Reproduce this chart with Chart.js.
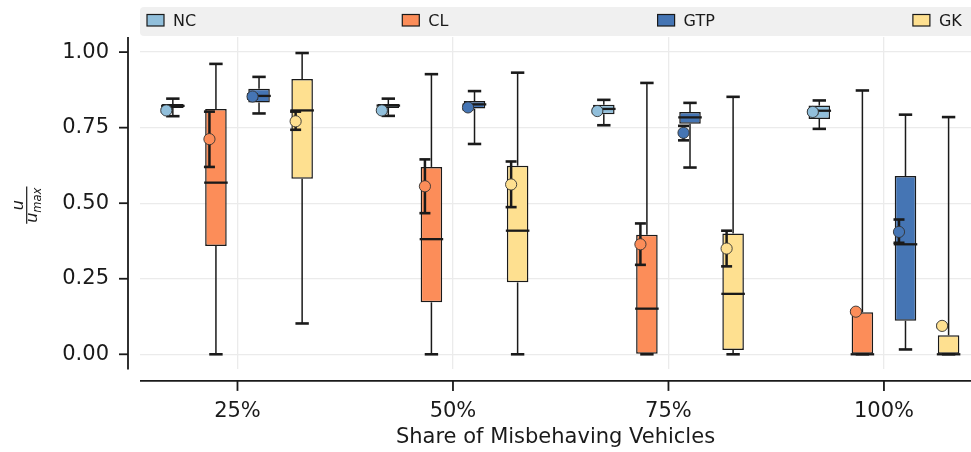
<!DOCTYPE html>
<html>
<head>
<meta charset="utf-8">
<script src="https://cdn.jsdelivr.net/npm/chart.js@4.4.0/dist/chart.umd.min.js"></script>
<style>
  html, body { margin: 0; padding: 0; background: #ffffff; overflow: hidden; }
  #wrap { width: 971px; height: 452px; }
</style>
</head>
<body>
<div id="wrap"><canvas id="chart" width="971" height="452"></canvas></div>
<script>
// Groups on the x axis and the four strategies compared in each group
const categories = ['25%', '50%', '75%', '100%'];
const seriesNames = ['NC', 'CL', 'GTP', 'GK'];
const seriesColors = ['#91bfdb', '#fc8d59', '#4575b4', '#fee090'];
const yTickValues = [0, 0.25, 0.5, 0.75, 1.0];

// Box statistics of u / u_max per group: whiskers, quartiles, median,
// mean and the confidence interval of the mean
const NC = {
  low:    [0.788, 0.789, 0.758, 0.746],
  q1:     [0.815, 0.815, 0.794, 0.779],
  median: [0.822, 0.823, 0.812, 0.806],
  q3:     [0.828, 0.828, 0.826, 0.823],
  high:   [0.846, 0.846, 0.842, 0.840],
  mean:   [0.807, 0.807, 0.805, 0.802],
  ciLow:  [0.803, 0.803, 0.801, 0.798],
  ciHigh: [0.811, 0.811, 0.809, 0.806]
};
const CL = {
  low:    [0.000, 0.000, 0.000, 0.000],
  q1:     [0.358, 0.172, 0.000, 0.000],
  median: [0.568, 0.381, 0.151, 0.000],
  q3:     [0.812, 0.620, 0.396, 0.139],
  high:   [0.961, 0.927, 0.898, 0.873],
  mean:   [0.712, 0.556, 0.364, 0.141],
  ciLow:  [0.620, 0.467, 0.296, 0.137],
  ciHigh: [0.803, 0.645, 0.433, 0.145]
};
const GTP = {
  low:    [0.797, 0.696, 0.618, 0.016],
  q1:     [0.833, 0.813, 0.763, 0.111],
  median: [0.855, 0.827, 0.784, 0.364],
  q3:     [0.879, 0.838, 0.802, 0.590],
  high:   [0.918, 0.871, 0.832, 0.793],
  mean:   [0.853, 0.817, 0.733, 0.405],
  ciLow:  [0.846, 0.811, 0.708, 0.369],
  ciHigh: [0.860, 0.823, 0.756, 0.446]
};
const GK = {
  low:    [0.102, 0.000, 0.000, 0.000],
  q1:     [0.581, 0.238, 0.014, 0.000],
  median: [0.807, 0.409, 0.200, 0.000],
  q3:     [0.911, 0.624, 0.400, 0.063],
  high:   [0.997, 0.932, 0.852, 0.785],
  mean:   [0.771, 0.562, 0.350, 0.094],
  ciLow:  [0.743, 0.487, 0.291, 0.090],
  ciHigh: [0.803, 0.638, 0.409, 0.098]
};
const seriesStats = [NC, CL, GTP, GK];

const FONT = 'DejaVu Sans';
const INK = '#1a1a1a';

// Interquartile boxes are floating bars [q1, q3]
const datasets = seriesNames.map((name, s) => ({
  label: name,
  data: categories.map((_, i) => ({ x: i, y: [seriesStats[s].q1[i], seriesStats[s].q3[i]] })),
  backgroundColor: seriesColors[s],
  borderColor: INK,
  borderWidth: 1.5,
  borderSkipped: false,
  categoryPercentage: 0.8,
  barPercentage: 0.5
}));

function line(ctx, x1, y1, x2, y2, w) {
  ctx.lineWidth = w;
  ctx.beginPath();
  ctx.moveTo(x1, y1);
  ctx.lineTo(x2, y2);
  ctx.stroke();
}

// Whiskers, medians, means with their confidence intervals
const boxExtras = {
  id: 'boxExtras',
  afterDatasetsDraw(chart) {
    const { ctx } = chart;
    const y = chart.scales.y;
    ctx.save();
    ctx.strokeStyle = INK;
    ctx.lineCap = 'butt';
    chart.data.datasets.forEach((ds, s) => {
      const st = seriesStats[s];
      const meta = chart.getDatasetMeta(s);
      meta.data.forEach((bar, i) => {
        const cx = bar.x;
        const half = bar.width / 2;
        const yLow = y.getPixelForValue(st.low[i]);
        const yHigh = y.getPixelForValue(st.high[i]);
        const yQ1 = y.getPixelForValue(st.q1[i]);
        const yQ3 = y.getPixelForValue(st.q3[i]);
        const yMed = y.getPixelForValue(st.median[i]);
        // whisker stems and caps
        line(ctx, cx, yQ3, cx, yHigh, 1.5);
        line(ctx, cx, yQ1, cx, yLow, 1.5);
        line(ctx, cx - 6.7, yHigh, cx + 6.7, yHigh, 2.6);
        line(ctx, cx - 6.7, yLow, cx + 6.7, yLow, 2.6);
        // median
        line(ctx, cx - half - 1, yMed, cx + half + 1, yMed, 2.3);
      });
    });
    chart.data.datasets.forEach((ds, s) => {
      const st = seriesStats[s];
      const meta = chart.getDatasetMeta(s);
      meta.data.forEach((bar, i) => {
        const mx = bar.x - 6.5;
        const yM = y.getPixelForValue(st.mean[i]);
        const yA = y.getPixelForValue(st.ciLow[i]);
        const yB = y.getPixelForValue(st.ciHigh[i]);
        ctx.strokeStyle = INK;
        line(ctx, mx, yA, mx, yB, 2.5);
        line(ctx, mx - 5.5, yA, mx + 5.5, yA, 2.6);
        line(ctx, mx - 5.5, yB, mx + 5.5, yB, 2.6);
        ctx.beginPath();
        ctx.arc(mx, yM, 5.6, 0, Math.PI * 2);
        ctx.fillStyle = seriesColors[s];
        ctx.fill();
        ctx.lineWidth = 0.9;
        ctx.strokeStyle = '#333333';
        ctx.stroke();
      });
    });
    ctx.restore();
  }
};

// Offset spines with outward tick marks
const spines = {
  id: 'spines',
  afterDraw(chart) {
    const { ctx, chartArea: a } = chart;
    const xs = chart.scales.x, ys = chart.scales.y;
    const sx = a.left - 12;
    const sy = a.bottom + 11.5;
    ctx.save();
    ctx.strokeStyle = INK;
    ctx.lineCap = 'butt';
    line(ctx, sx, a.top, sx, a.bottom, 1.8);
    ys.ticks.forEach(t => {
      const py = ys.getPixelForValue(t.value);
      line(ctx, sx - 9, py, sx, py, 1.8);
    });
    line(ctx, a.left, sy, a.right, sy, 1.8);
    xs.ticks.forEach(t => {
      const px = xs.getPixelForValue(t.value);
      line(ctx, px, sy, px, sy + 10, 1.8);
    });
    ctx.restore();
  }
};

// Legend strip spread over equal-width columns
const legendStrip = {
  id: 'legendStrip',
  afterDraw(chart) {
    const { ctx, chartArea: a } = chart;
    const colWidth = 255.3;
    const top = 7, h = 29;
    ctx.save();
    ctx.fillStyle = '#f0f0f0';
    ctx.beginPath();
    ctx.roundRect(a.left, top, colWidth * seriesNames.length, h, 4);
    ctx.fill();
    ctx.font = `16px "${FONT}"`;
    ctx.textBaseline = 'middle';
    seriesNames.forEach((name, s) => {
      const x0 = a.left + 7 + s * colWidth;
      ctx.fillStyle = seriesColors[s];
      ctx.fillRect(x0, 14.5, 17, 11.5);
      ctx.strokeStyle = INK;
      ctx.lineWidth = 1.2;
      ctx.strokeRect(x0, 14.5, 17, 11.5);
      ctx.fillStyle = INK;
      ctx.fillText(name, x0 + 26, 21.5);
    });
    ctx.restore();
  }
};

// Y-axis title as a fraction u / u_max
const fractionTitle = {
  id: 'fractionTitle',
  afterDraw(chart) {
    const { ctx } = chart;
    const ys = chart.scales.y;
    const cx = 26.7;
    const cy = (ys.top + ys.bottom) / 2 + 2;
    ctx.save();
    ctx.translate(cx, cy);
    ctx.rotate(-Math.PI / 2);
    ctx.fillStyle = INK;
    ctx.strokeStyle = INK;
    ctx.textBaseline = 'alphabetic';
    const big = `italic 16px "${FONT}"`;
    const small = `italic 11.5px "${FONT}"`;
    ctx.font = big;
    ctx.textAlign = 'center';
    ctx.fillText('u', 0, -4.2);
    ctx.textAlign = 'left';
    const wu = ctx.measureText('u').width;
    ctx.font = small;
    const wm = ctx.measureText('max').width;
    const total = wu + wm;
    const start = -total / 2;
    line(ctx, start - 1, 0, start + total + 1, 0, 1.2);
    ctx.font = big;
    ctx.fillText('u', start, 10);
    ctx.font = small;
    ctx.fillText('max', start + wu, 14);
    ctx.restore();
  }
};

new Chart(document.getElementById('chart'), {
  type: 'bar',
  data: { datasets },
  plugins: [boxExtras, spines, legendStrip, fractionTitle],
  options: {
    responsive: false,
    animation: false,
    layout: { padding: { top: 37, left: 0, right: 0, bottom: 0 } },
    plugins: { legend: { display: false }, tooltip: { enabled: false } },
    scales: {
      x: {
        type: 'linear',
        offset: false,
        min: -0.4524,
        max: 3.404,
        afterBuildTicks: sc => { sc.ticks = categories.map((_, i) => ({ value: i })); },
        afterFit: sc => { sc.height = 82.6; sc.paddingLeft = 0; sc.paddingRight = 0; },
        grid: { color: '#ebebeb', lineWidth: 1.3, drawTicks: false, offset: false },
        border: { display: false },
        ticks: {
          padding: 29.5,
          color: INK,
          font: { family: FONT, size: 21 },
          callback: v => categories[v] ?? ''
        },
        title: {
          display: true,
          text: 'Share of Misbehaving Vehicles',
          color: INK,
          font: { family: FONT, size: 21 },
          padding: { top: 0, bottom: 2 }
        }
      },
      y: {
        min: -0.05,
        max: 1.05,
        afterBuildTicks: sc => { sc.ticks = yTickValues.map(v => ({ value: v })); },
        afterFit: sc => { sc.width = 140; sc.paddingTop = 0; sc.paddingBottom = 0; },
        grid: { color: '#ebebeb', lineWidth: 1.3, drawTicks: false },
        border: { display: false },
        ticks: {
          padding: 31,
          color: INK,
          font: { family: FONT, size: 21 },
          callback: v => v.toFixed(2)
        }
      }
    }
  }
});
</script>
</body>
</html>
